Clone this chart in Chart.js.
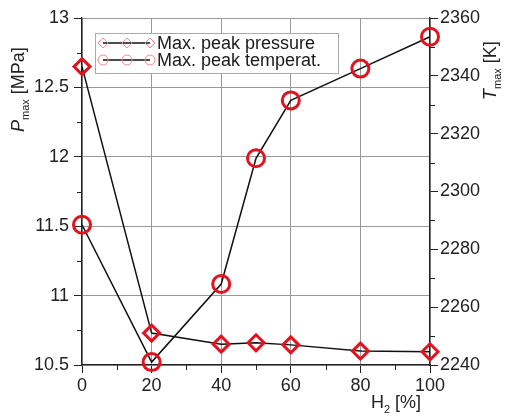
<!DOCTYPE html>
<html>
<head>
<meta charset="utf-8">
<title>Peak pressure and temperature vs H2</title>
<script src="https://cdn.jsdelivr.net/npm/chart.js@4/dist/chart.umd.min.js"></script>
<style>
  html, body { margin: 0; padding: 0; background: #fff; }
  #chart { display: block; }
</style>
</head>
<body>
<canvas id="chart" width="505" height="416"></canvas>
<script>
// hydrogen share in the fuel [%]
const h2Share = [0, 20, 40, 50, 60, 80, 100];
// peak cylinder pressure [MPa]
const peakPressure = [12.65, 10.73, 10.65, 10.66, 10.645, 10.60, 10.595];
// peak temperature [K]
const peakTemp = [2288.5, 2241, 2268, 2311.5, 2331.5, 2342.5, 2353.5];

const seriesLabels = ['Max. peak pressure', 'Max. peak temperat.'];

// tick values
const xTicks = [0, 20, 40, 60, 80, 100];
const xMinorTicks = [10, 30, 50, 70, 90];
const pTicks = [10.5, 11, 11.5, 12, 12.5, 13];
const pMinorTicks = [10.75, 11.25, 11.75, 12.25, 12.75];
const tTicks = [2240, 2260, 2280, 2300, 2320, 2340, 2360];
const tMinorTicks = [2250, 2270, 2290, 2310, 2330, 2350];

const RED = '#e3121e';
const FONT = '"Liberation Sans", Arial, sans-serif';

// plain numbers, no thousands separator or trailing zero
const plain = v => String(v);

// draws text with italic / subscript pieces, starting at (x, y) on the baseline
function drawRich(ctx, parts, x, y, size) {
    let cx = x;
    parts.forEach(p => {
        const fs = p.sub ? Math.round(size * 0.62) : size;
        ctx.font = (p.italic ? 'italic ' : '') + fs + 'px ' + FONT;
        ctx.fillText(p.text, cx, y + (p.sub ? size * 0.28 : 0));
        cx += ctx.measureText(p.text).width;
    });
}

const decorPlugin = {
    id: 'decor',
    afterDraw(chart) {
        const ctx = chart.ctx;
        const area = chart.chartArea;
        const sx = chart.scales.x, sp = chart.scales.yP, st = chart.scales.yT;

        // minor ticks
        ctx.save();
        ctx.strokeStyle = '#222';
        ctx.lineWidth = 1;
        ctx.beginPath();
        xMinorTicks.forEach(v => {
            const px = Math.round(sx.getPixelForValue(v)) + 0.5;
            ctx.moveTo(px, area.bottom);
            ctx.lineTo(px, area.bottom + 5);
        });
        pMinorTicks.forEach(v => {
            const py = Math.round(sp.getPixelForValue(v)) + 0.5;
            ctx.moveTo(area.left, py);
            ctx.lineTo(area.left - 5, py);
        });
        tMinorTicks.forEach(v => {
            const py = Math.round(st.getPixelForValue(v)) + 0.5;
            ctx.moveTo(area.right, py);
            ctx.lineTo(area.right + 5, py);
        });
        ctx.stroke();

        // axis titles
        ctx.fillStyle = '#222';
        ctx.textBaseline = 'alphabetic';
        ctx.textAlign = 'left';

        ctx.save();
        ctx.translate(24, 132);
        ctx.rotate(-Math.PI / 2);
        drawRich(ctx, [{ text: 'P', italic: true }, { text: 'max', sub: true }, { text: ' [MPa]' }], 0, 0, 18);
        ctx.restore();

        ctx.save();
        ctx.translate(496, 100);
        ctx.rotate(-Math.PI / 2);
        drawRich(ctx, [{ text: 'T', italic: true }, { text: 'max', sub: true }, { text: ' [K]' }], 0, 0, 18);
        ctx.restore();

        drawRich(ctx, [{ text: 'H' }, { text: '2', sub: true }, { text: ' [%]' }], 371, 408, 18);

        // legend box with line + marker samples
        const bx = 95, by = 33, bw = 243, bh = 40;
        ctx.fillStyle = '#fff';
        ctx.fillRect(bx, by, bw, bh);
        ctx.strokeStyle = '#aaa';
        ctx.lineWidth = 1;
        ctx.strokeRect(bx + 0.5, by + 0.5, bw, bh);
        chart.data.datasets.forEach((ds, i) => {
            const y = by + 10 + i * 17;
            ctx.strokeStyle = '#111';
            ctx.lineWidth = 1.5;
            ctx.beginPath();
            ctx.moveTo(103, y);
            ctx.lineTo(150, y);
            ctx.stroke();
            ctx.strokeStyle = '#f08a8f';
            ctx.lineWidth = 1;
            [103, 127, 150].forEach(mx => {
                ctx.beginPath();
                if (ds.pointStyle === 'rectRot') {
                    ctx.moveTo(mx, y - 5); ctx.lineTo(mx + 5, y);
                    ctx.lineTo(mx, y + 5); ctx.lineTo(mx - 5, y);
                    ctx.closePath();
                } else {
                    ctx.arc(mx, y, 5, 0, Math.PI * 2);
                }
                ctx.stroke();
            });
            ctx.fillStyle = '#1a1a1a';
            ctx.font = '18px ' + FONT;
            ctx.textBaseline = 'middle';
            ctx.fillText(ds.label, 157, y + 1);
        });
        ctx.restore();
    }
};

const ctx = document.getElementById('chart').getContext('2d');
new Chart(ctx, {
    type: 'line',
    data: {
        datasets: [
            {
                label: seriesLabels[0],
                data: h2Share.map((x, i) => ({ x: x, y: peakPressure[i] })),
                yAxisID: 'yP',
                borderColor: '#111',
                borderWidth: 1.5,
                pointStyle: 'rectRot',
                pointRadius: 8,
                pointBorderWidth: 3,
                pointBorderColor: RED,
                pointBackgroundColor: 'rgba(0,0,0,0)',
                tension: 0,
                clip: false
            },
            {
                label: seriesLabels[1],
                data: h2Share.map((x, i) => ({ x: x, y: peakTemp[i] })),
                yAxisID: 'yT',
                borderColor: '#111',
                borderWidth: 1.5,
                pointStyle: 'circle',
                pointRadius: 8.5,
                pointBorderWidth: 3,
                pointBorderColor: RED,
                pointBackgroundColor: 'rgba(0,0,0,0)',
                tension: 0,
                clip: false
            }
        ]
    },
    options: {
        responsive: false,
        animation: false,
        layout: { padding: { top: 18, left: 0, right: 0, bottom: 0 } },
        plugins: {
            legend: { display: false },
            tooltip: { enabled: false }
        },
        scales: {
            x: {
                type: 'linear',
                min: 0,
                max: 100,
                afterBuildTicks: s => { s.ticks = xTicks.map(v => ({ value: v })); },
                afterFit: s => { s.height = 51; },
                grid: { color: '#999', tickColor: '#222', tickLength: 8, lineWidth: 1 },
                border: { color: '#222', width: 1.3 },
                ticks: { color: '#222', padding: 2, font: { family: FONT, size: 18 }, maxRotation: 0, callback: plain }
            },
            yP: {
                type: 'linear',
                position: 'left',
                min: 10.5,
                max: 13,
                afterBuildTicks: s => { s.ticks = pTicks.map(v => ({ value: v })); },
                afterFit: s => { s.width = 82; },
                grid: { color: '#999', tickColor: '#222', tickLength: 8, lineWidth: 1 },
                border: { color: '#222', width: 1.3 },
                ticks: { color: '#222', padding: 5, font: { family: FONT, size: 18 }, callback: plain }
            },
            yT: {
                type: 'linear',
                position: 'right',
                min: 2240,
                max: 2360,
                afterBuildTicks: s => { s.ticks = tTicks.map(v => ({ value: v })); },
                afterFit: s => { s.width = 75; },
                grid: { drawOnChartArea: false, tickColor: '#222', tickLength: 8 },
                border: { color: '#222', width: 1.3 },
                ticks: { color: '#222', padding: 2, font: { family: FONT, size: 18 }, callback: plain }
            }
        }
    },
    plugins: [decorPlugin]
});
</script>
</body>
</html>
